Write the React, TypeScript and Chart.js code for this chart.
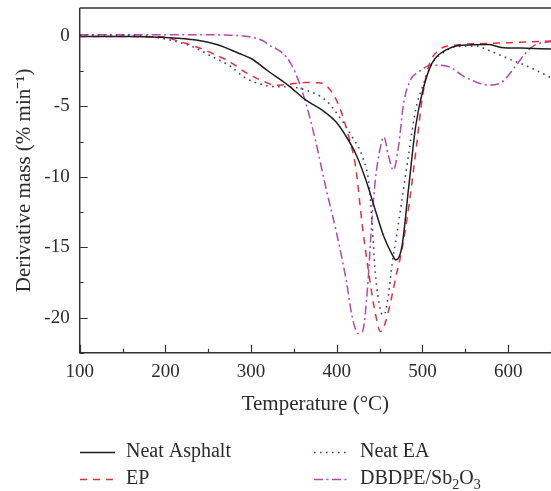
import { useEffect, useRef } from "react";
import { Chart, registerables } from "chart.js";

Chart.register(...registerables);

// ---- Data (temperature °C, derivative mass % min^-1) ----
const asphaltTemp = [100, 130, 160, 200, 236, 260, 286, 300, 321, 343, 364, 383, 399, 410, 422, 434, 445, 455, 465, 469, 476, 484, 492, 500, 511, 527, 546, 577, 592, 615, 650];
const asphaltVal = [-0.02, -0.02, -0.03, -0.1, -0.28, -0.6, -1.23, -1.59, -2.53, -3.48, -4.55, -5.26, -6.09, -7.04, -8.34, -10.23, -12.37, -14.26, -15.56, -15.92, -14.97, -10.7, -6.44, -3.96, -1.94, -1.0, -0.64, -0.6, -0.8, -0.85, -0.92];

const eaTemp = [100, 160, 197, 232, 255, 275, 294, 314, 329, 343, 364, 387, 403, 418, 430, 438, 441, 445, 451, 455, 460, 465, 469, 476, 484, 492, 500, 511, 523, 538, 562, 577, 600, 624, 650];
const eaVal = [0.08, 0.07, -0.17, -0.76, -1.47, -2.1, -3.0, -3.45, -3.6, -3.6, -3.84, -4.55, -5.73, -7.16, -8.58, -10.7, -13.08, -16.85, -19.47, -19.83, -18.5, -16.0, -14.5, -11.66, -8.34, -5.26, -3.6, -1.94, -1.23, -0.76, -0.7, -1.0, -1.59, -2.18, -2.95];

const epTemp = [100, 160, 197, 217, 236, 255, 275, 294, 314, 329, 343, 364, 379, 391, 403, 414, 422, 430, 438, 445, 451, 457, 465, 469, 476, 484, 492, 500, 507, 519, 538, 577, 650];
const epVal = [-0.02, -0.03, -0.05, -0.4, -0.76, -1.23, -1.82, -2.6, -3.2, -3.5, -3.43, -3.3, -3.31, -3.72, -5.02, -7.16, -9.29, -13.55, -17.1, -19.7, -21.0, -20.3, -18.29, -17.1, -15.2, -12.13, -8.34, -4.31, -2.18, -1.0, -0.64, -0.52, -0.35];

const dbTemp = [100, 160, 236, 275, 298, 314, 321, 329, 341, 352, 364, 376, 387, 399, 411, 418, 425, 430, 436, 441, 445, 451, 455, 460, 466, 472, 478, 486, 496, 511, 531, 546, 562, 577, 593, 608, 620, 631, 650];
const dbVal = [0.1, 0.1, 0.1, 0.07, -0.05, -0.33, -0.64, -0.88, -1.47, -2.65, -4.78, -7.63, -10.7, -13.79, -17.34, -19.95, -21.13, -21.0, -17.8, -13.08, -10.23, -7.87, -7.16, -8.4, -9.52, -7.87, -4.78, -3.13, -2.53, -2.06, -2.18, -2.77, -3.25, -3.48, -3.25, -2.18, -1.23, -0.64, -0.4];

const seriesLabels = ["Neat Asphalt", "EP", "Neat EA", "DBDPE/Sb₂O₃"];
const xTickValues = [100, 200, 300, 400, 500, 600];
const yTickValues = [0, -5, -10, -15, -20];

const FONT = "'Liberation Serif', 'Times New Roman', serif";
const TEXT = "#2b2b2b";

function pts(t: number[], v: number[]) {
  return t.map((x, i) => ({ x, y: v[i] }));
}

const framePlugin = {
  id: "frame",
  afterDatasetsDraw(chart: any) {
    const { ctx, chartArea, scales } = chart;
    const { left, right, top, bottom } = chartArea;
    const xs = scales.x;
    const ys = scales.y;
    ctx.save();
    ctx.strokeStyle = "#333";
    ctx.lineWidth = 1.5;
    ctx.setLineDash([]);
    ctx.beginPath();
    ctx.moveTo(left, top);
    ctx.lineTo(right + 2, top);
    ctx.moveTo(left, top);
    ctx.lineTo(left, bottom);
    ctx.lineTo(right + 2, bottom);
    ctx.stroke();
    ctx.lineWidth = 1.2;
    ctx.beginPath();
    for (let v = xs.min; v <= xs.max + 1e-6; v += 50) {
      const px = Math.round(xs.getPixelForValue(v)) + 0.5;
      const len = Math.abs(v % 100) < 1e-6 ? 8 : 4;
      ctx.moveTo(px, bottom);
      ctx.lineTo(px, bottom - len);
    }
    for (let v = 0; v >= ys.min - 1e-6; v -= 2.5) {
      const py = Math.round(ys.getPixelForValue(v)) + 0.5;
      const len = Math.abs(v % 5) < 1e-6 ? 8 : 4;
      ctx.moveTo(left, py);
      ctx.lineTo(left + len, py);
    }
    ctx.stroke();
    ctx.restore();
  },
};

const legendSlots = [
  { lx: 80, ly: 452 },
  { lx: 80, ly: 479 },
  { lx: 314, ly: 452 },
  { lx: 314, ly: 479 },
];

const subDigits: Record<string, string> = { "₀": "0", "₁": "1", "₂": "2", "₃": "3", "₄": "4", "₅": "5" };

const legendPlugin = {
  id: "customLegend",
  afterDraw(chart: any) {
    const { ctx } = chart;
    ctx.save();
    chart.data.datasets.forEach((ds: any, i: number) => {
      const slot = legendSlots[i];
      ctx.strokeStyle = ds.borderColor;
      ctx.lineWidth = ds.borderWidth;
      ctx.setLineDash(ds.borderDash || []);
      ctx.beginPath();
      ctx.moveTo(slot.lx, slot.ly + 0.5);
      ctx.lineTo(slot.lx + 35, slot.ly + 0.5);
      ctx.stroke();
      ctx.setLineDash([]);
      ctx.fillStyle = TEXT;
      ctx.textBaseline = "middle";
      ctx.textAlign = "left";
      let x = slot.lx + 46;
      const label: string = ds.label;
      for (const ch of label) {
        if (subDigits[ch]) {
          ctx.font = `14px ${FONT}`;
          ctx.fillText(subDigits[ch], x, slot.ly + 6);
          x += ctx.measureText(subDigits[ch]).width;
        } else {
          ctx.font = `20px ${FONT}`;
          ctx.fillText(ch, x, slot.ly);
          x += ctx.measureText(ch).width;
        }
      }
    });
    ctx.restore();
  },
};

export default function App() {
  const ref = useRef<HTMLCanvasElement | null>(null);

  useEffect(() => {
    if (!ref.current) return;
    const chart = new Chart(ref.current, {
      type: "line",
      data: {
        datasets: [
          {
            label: seriesLabels[0],
            data: pts(asphaltTemp, asphaltVal),
            borderColor: "#1e1e1e",
            borderWidth: 1.5,
            pointRadius: 0,
            cubicInterpolationMode: "monotone",
          },
          {
            label: seriesLabels[1],
            data: pts(epTemp, epVal),
            borderColor: "#ee2a36",
            borderWidth: 1.5,
            borderDash: [7, 6],
            pointRadius: 0,
            cubicInterpolationMode: "monotone",
          },
          {
            label: seriesLabels[2],
            data: pts(eaTemp, eaVal),
            borderColor: "#3b3ba8",
            borderWidth: 1.6,
            borderDash: [1.6, 4.4],
            pointRadius: 0,
            cubicInterpolationMode: "monotone",
          },
          {
            label: seriesLabels[3],
            data: pts(dbTemp, dbVal),
            borderColor: "#b448ad",
            borderWidth: 1.5,
            borderDash: [9, 3.5, 2, 3.5],
            pointRadius: 0,
            cubicInterpolationMode: "monotone",
          },
        ],
      },
      options: {
        responsive: false,
        animation: false,
        events: [],
        layout: { padding: { top: 8, right: 0, bottom: 0, left: 0 } },
        plugins: {
          legend: { display: false },
          tooltip: { enabled: false },
        },
        scales: {
          x: {
            type: "linear",
            min: 100,
            max: 650,
            grid: { display: false },
            border: { display: false },
            afterFit: (s: any) => {
              s.height = 138.3;
              s.paddingLeft = 0;
              s.paddingRight = 0;
            },
            afterBuildTicks: (s: any) => {
              s.ticks = xTickValues.map((v) => ({ value: v }));
            },
            ticks: {
              color: TEXT,
              font: { family: FONT, size: 19 },
              padding: 0,
              maxRotation: 0,
              autoSkip: false,
            },
            title: {
              display: true,
              text: "Temperature (°C)",
              color: TEXT,
              font: { family: FONT, size: 21 },
              padding: { top: 0, bottom: 74 },
            },
          },
          y: {
            type: "linear",
            min: -22.5,
            max: 2,
            grid: { display: false },
            border: { display: false },
            afterFit: (s: any) => {
              s.width = 79.7;
              s.paddingTop = 0;
              s.paddingBottom = 0;
            },
            afterBuildTicks: (s: any) => {
              s.ticks = yTickValues.map((v) => ({ value: v }));
            },
            ticks: {
              color: TEXT,
              font: { family: FONT, size: 19 },
              padding: 2,
              autoSkip: false,
            },
            title: {
              display: true,
              text: "Derivative mass (% min⁻¹)",
              color: TEXT,
              font: { family: FONT, size: 21 },
              padding: { top: 12, bottom: 0 },
            },
          },
        },
      },
      plugins: [framePlugin, legendPlugin],
    } as any);
    return () => chart.destroy();
  }, []);

  return (
    <div style={{ position: "fixed", left: 0, top: 0, width: 551, height: 491, background: "#fff" }}>
      <canvas ref={ref} width={551} height={491} style={{ display: "block" }} />
    </div>
  );
}
